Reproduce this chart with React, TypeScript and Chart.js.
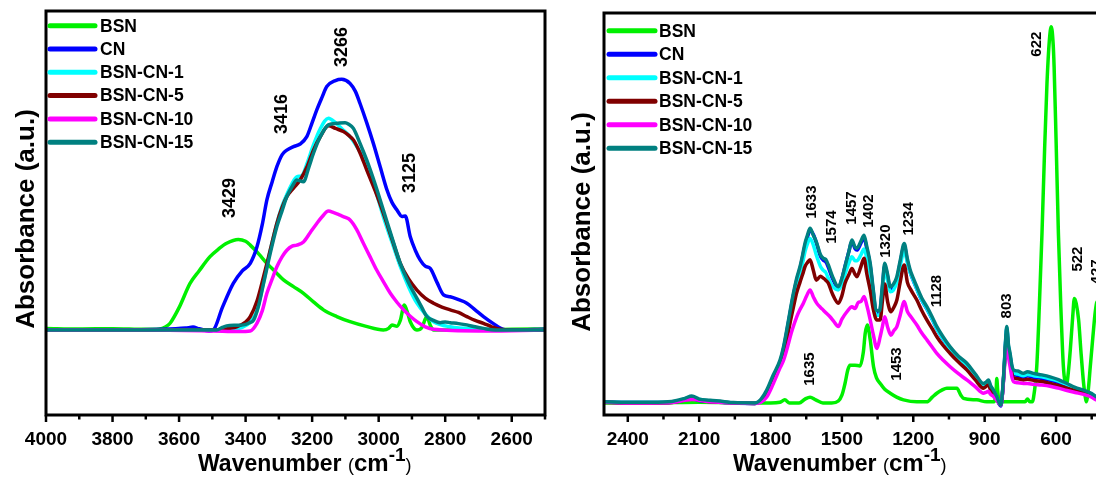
import React, { useEffect, useRef } from 'react';
import { Chart, registerables } from 'chart.js';

Chart.register(...registerables);

type P = [number, number];

// ---------------- DATA ----------------
const SERIES_NAMES = ['BSN', 'CN', 'BSN-CN-1', 'BSN-CN-5', 'BSN-CN-10', 'BSN-CN-15'];

// Left panel (4000-2500 cm-1): [wavenumber, absorbance]
const L_BSN: P[] = [[4000,0.5],[3900,0.3],[3800,0.4],[3700,0.2],[3660,0.3],[3640,1],[3627,2.1],[3600,7],[3567,14.6],[3540,18.5],[3507,23],[3480,25.5],[3457,27.2],[3422,28.4],[3400,27.8],[3386,26.6],[3360,23.8],[3336,20.9],[3310,18.2],[3286,15.7],[3256,13.6],[3226,11.5],[3196,8.8],[3166,6.3],[3126,4.2],[3086,2.6],[3040,1.2],[2986,0],[2970,0.5],[2960,1.6],[2945,1.2],[2935,3],[2923,7.8],[2912,5],[2905,2.6],[2885,0],[2870,0.8],[2855,4.2],[2845,1.5],[2835,0],[2700,0],[2600,0.2],[2500,0.3]];
const L_CN: P[] = [[4000,0],[3800,0],[3650,0.2],[3580,0.6],[3558,0.9],[3540,0.4],[3510,-0.3],[3497,0],[3470,7],[3437,14.6],[3410,18.5],[3386,20.9],[3366,26],[3350,33],[3336,40.8],[3320,46.5],[3306,51.2],[3290,55],[3276,56.4],[3256,57.5],[3236,58.3],[3216,60.6],[3200,65],[3186,69],[3170,73],[3156,76.3],[3130,78.2],[3111,78.6],[3086,77.3],[3070,74.8],[3056,71],[3036,65],[3016,58.5],[2995,51],[2975,43.9],[2960,40],[2945,37.6],[2930,35.6],[2920,35.7],[2905,29.2],[2890,25],[2875,21.9],[2860,20],[2845,19.3],[2825,15],[2805,11],[2785,10.4],[2760,9.5],[2735,8.4],[2710,6.3],[2685,4.2],[2655,2],[2625,0.2],[2600,0],[2500,0.2]];
const L_BSN_CN_1: P[] = [[4000,0],[3700,0],[3480,0],[3440,0.3],[3410,0.8],[3386,2.5],[3366,6],[3346,15],[3326,25],[3306,33.5],[3290,39],[3276,42.5],[3260,46],[3246,48],[3230,48.5],[3216,52],[3196,58],[3176,63],[3151,66.4],[3130,65],[3110,63],[3086,60.6],[3060,56.5],[3036,52.3],[3010,44],[2986,35.5],[2960,27.5],[2935,19.9],[2910,13.5],[2885,8.4],[2860,5],[2835,2.6],[2785,1],[2700,0.3],[2600,0],[2500,0]];
const L_BSN_CN_5: P[] = [[4000,0],[3700,0],[3477,0],[3450,0.5],[3427,1],[3400,2.5],[3386,4.2],[3366,9],[3346,16.7],[3326,25],[3306,33.4],[3290,38.5],[3276,41.8],[3256,44.5],[3236,47],[3216,51],[3196,56.4],[3176,60.5],[3151,64],[3130,63.2],[3106,62.2],[3090,61],[3076,59.6],[3056,55.5],[3036,50.2],[3010,43.5],[2986,36.6],[2960,28.5],[2935,20.9],[2910,16],[2885,12.5],[2860,10],[2835,8.4],[2810,7.2],[2785,6.3],[2760,5.5],[2735,4.2],[2710,3],[2685,2.1],[2660,1],[2635,0.2],[2600,0],[2500,0]];
const L_BSN_CN_10: P[] = [[4000,0],[3700,0],[3500,-0.3],[3420,-0.5],[3386,-0.3],[3366,2.1],[3350,6],[3336,11.5],[3320,16],[3306,19.8],[3290,23],[3276,25],[3260,26.3],[3246,26.6],[3226,27.6],[3206,30.5],[3186,33.4],[3170,35.5],[3151,37.3],[3135,36.8],[3116,36],[3100,35.3],[3086,34.5],[3066,31.5],[3046,27.2],[3026,23],[3006,18.8],[2985,15],[2965,11.5],[2945,8.7],[2925,6.3],[2905,4.3],[2885,2.6],[2860,1],[2835,0.2],[2700,-0.3],[2600,-0.2],[2500,0]];
const L_BSN_CN_15: P[] = [[4000,0],[3700,0],[3487,0],[3470,0.8],[3457,1.3],[3430,1.5],[3406,1.6],[3390,2.2],[3376,3.1],[3360,8],[3346,14.6],[3326,24],[3306,32.4],[3290,37.5],[3276,41.8],[3260,45],[3246,47],[3226,46.5],[3210,51],[3196,55.4],[3176,60.5],[3151,64.3],[3125,64.8],[3101,65],[3090,64.5],[3076,63.2],[3056,58.5],[3036,53.3],[3010,45.5],[2986,37.6],[2960,29],[2935,20.9],[2910,14.8],[2885,9.9],[2870,7],[2855,4.2],[2835,3],[2815,2.3],[2800,2.5],[2785,2.3],[2760,2],[2735,1.6],[2710,1],[2685,0.5],[2650,0],[2500,0]];

// Right panel (2500-400 cm-1)
const R_BSN: P[] = [[2500,0],[2300,0],[2100,0.2],[1900,0],[1800,0],[1760,0.2],[1740,0.8],[1720,0],[1680,0],[1655,1],[1634,1.5],[1610,0.8],[1580,0],[1543,0],[1515,0.5],[1500,2],[1487,5],[1475,8.5],[1466,9.7],[1445,9.7],[1424,9.5],[1410,13],[1402,17.9],[1393,20],[1381,16.2],[1367,9.3],[1355,6.5],[1339,5],[1320,3.5],[1297,2.5],[1270,1.5],[1241,0.8],[1185,0.3],[1143,0.3],[1120,1.5],[1101,2.5],[1080,3.3],[1059,3.8],[1017,3.8],[1000,2],[989,1.2],[933,0.8],[891,0.3],[860,0.3],[852,3],[849,6.3],[845,3],[838,0.3],[760,0.3],[730,0.3],[720,1],[710,0.3],[700,0.3],[695,1.2],[681,9.3],[670,25],[659,43.5],[648,65],[638,82],[628,93],[620,96.5],[612,92],[608,86.2],[600,68],[590,43.5],[580,25],[569,9.3],[562,5.5],[555,5],[548,8],[540,13.6],[530,22],[523,26.8],[515,25.5],[505,21.3],[495,13],[484,5],[478,2],[473,0.3],[465,3],[456,9.3],[445,17],[435,23.4],[427,26],[418,23],[410,15],[400,8]];
const R_CN: P[] = [[2500,0.2],[2400,0.1],[2300,0.1],[2215,0.2],[2160,0.8],[2131,1.2],[2100,0.6],[2054,0.4],[2000,0.2],[1956,0],[1865,-0.1],[1840,0.7],[1816,2.9],[1790,6.5],[1760,10.5],[1745,14],[1732,18.2],[1718,23],[1704,27.6],[1690,31.5],[1676,34.5],[1665,37.5],[1655,40.4],[1645,42.5],[1634,44.3],[1620,43.2],[1608,41.2],[1590,37.6],[1578,36.6],[1568,36.2],[1557,34.8],[1540,32],[1515,29.4],[1500,31.8],[1487,35],[1470,39],[1458,41.4],[1445,39.6],[1437,39.2],[1420,41],[1407,42.4],[1395,39.4],[1381,35.2],[1368,28.4],[1356,23.2],[1342,23],[1330,29.4],[1320,35.2],[1308,32.4],[1297,29.2],[1283,29.9],[1269,31.8],[1255,35.9],[1238,40.3],[1225,36.4],[1213,33.5],[1200,31.4],[1185,29.2],[1165,26.4],[1143,24.1],[1120,21.4],[1101,19],[1075,16.4],[1045,13.8],[1010,11.4],[975,9.6],[940,7],[905,4.5],[895,4.8],[884,5.3],[875,4],[863,2.8],[848,1],[840,-0.2],[832,-0.8],[825,2.5],[818,8.8],[812,15.5],[807,19],[800,14.3],[793,12],[785,8.8],[779,7.4],[760,7],[737,6.6],[720,7],[695,6.6],[660,6.3],[625,5.8],[590,5.2],[554,4.3],[520,3.4],[484,2.7],[450,1.9],[431,1.2],[400,0.5]];
const R_BSN_CN_1: P[] = [[2500,0.2],[2400,0.1],[2300,0.1],[2215,0.2],[2131,1.2],[2054,0.4],[1956,0],[1865,-0.1],[1840,0.7],[1816,2.8],[1790,6.5],[1760,10.3],[1745,13.8],[1732,17.8],[1718,22.5],[1704,27],[1690,30.5],[1676,33.5],[1665,36],[1655,38.8],[1645,40.8],[1634,42.2],[1620,40.5],[1608,38],[1590,35],[1578,34],[1568,33.5],[1557,32],[1540,30],[1515,29],[1500,30.5],[1487,33],[1470,36],[1458,37.5],[1445,36.5],[1437,36.5],[1420,38],[1407,39.5],[1395,37],[1381,33],[1368,27],[1356,22.5],[1342,22.5],[1330,28.5],[1320,34],[1308,31.5],[1297,28.5],[1283,29],[1269,31],[1255,35],[1238,39.2],[1225,36],[1213,33.5],[1200,31.5],[1185,29.2],[1165,26.5],[1143,24.2],[1120,21.5],[1101,19],[1075,16.5],[1045,13.8],[1010,11.5],[975,9.6],[940,7],[905,4.7],[895,5],[884,5.5],[875,4.2],[863,3.1],[848,1.3],[840,0.1],[832,-0.5],[825,2.7],[818,9],[812,15.7],[807,19.3],[800,14.5],[793,12],[785,9],[779,7.8],[760,7.4],[737,7],[720,7.3],[695,7],[660,6.7],[625,6.2],[590,5.6],[554,4.7],[520,3.8],[484,3],[450,2.2],[431,1.5],[400,0.7]];
const R_BSN_CN_5: P[] = [[2500,0.2],[2400,0],[2300,0],[2215,0.1],[2131,1],[2054,0.3],[1956,0],[1865,-0.1],[1840,0.5],[1816,2.5],[1790,5.8],[1760,9.5],[1745,12.5],[1732,16],[1718,20.5],[1704,24.5],[1690,28.3],[1676,31],[1665,33],[1655,35],[1645,36],[1634,36.7],[1620,34],[1608,31.5],[1590,32.5],[1578,32],[1568,31.5],[1557,30.7],[1540,28],[1515,25.6],[1500,27.5],[1487,30.7],[1470,33],[1458,34.5],[1445,33],[1437,32.4],[1420,35],[1407,37.1],[1395,33],[1381,28.9],[1368,24],[1353,21.3],[1339,21.3],[1330,26],[1320,30.5],[1308,26],[1294,23.4],[1282,24.5],[1269,26.4],[1255,31],[1238,35.4],[1225,31],[1210,29],[1185,26.4],[1165,23.8],[1143,21.3],[1120,19],[1101,17],[1075,14.8],[1045,12.7],[1010,10.5],[975,8.5],[940,6],[905,3.8],[895,4.2],[884,4.7],[875,3.2],[863,2.1],[848,0.8],[840,0],[832,-0.5],[825,2.5],[818,8.5],[812,14.5],[807,17.9],[800,13.5],[793,11],[785,7.5],[779,6.5],[760,6.2],[737,5.9],[720,6.1],[695,5.8],[660,5.5],[625,5],[590,4.5],[554,3.8],[520,3.2],[484,2.5],[450,1.8],[431,1],[400,0.5]];
const R_BSN_CN_10: P[] = [[2500,0.2],[2400,0],[2300,0],[2215,0.1],[2131,0.9],[2054,0.3],[1956,0],[1865,-0.1],[1840,0.2],[1816,1.5],[1788,5],[1760,9],[1745,11],[1732,13.6],[1710,18.5],[1690,22.1],[1676,24],[1662,25.6],[1648,27.5],[1634,29],[1620,27.2],[1606,25.6],[1590,24.5],[1578,23.8],[1565,23],[1550,22.1],[1535,21],[1515,19.6],[1500,21.5],[1479,23.4],[1458,24.7],[1445,24.2],[1431,25.8],[1420,26],[1407,27.3],[1395,25],[1381,21.3],[1368,17.5],[1353,14],[1339,17],[1330,19.5],[1320,22.1],[1308,19.5],[1294,17.4],[1282,18.5],[1269,19.6],[1255,22.5],[1238,26],[1225,23.5],[1210,22.1],[1185,20],[1165,18],[1143,16.2],[1120,14.3],[1101,12.7],[1075,11],[1045,9.3],[1010,7.5],[975,5.9],[940,4.2],[905,2.5],[895,2.7],[884,3],[875,2.2],[863,1.7],[848,0.6],[840,0],[832,-0.5],[825,2.5],[818,8],[812,13.5],[807,17],[800,12],[793,9.3],[785,6.5],[779,5.5],[760,5.2],[737,5],[720,5],[695,4.8],[660,4.6],[625,4.3],[590,3.8],[554,3.2],[520,2.7],[484,2.2],[450,1.5],[431,0.8],[400,0.4]];
const R_BSN_CN_15: P[] = [[2500,0.3],[2400,0.2],[2300,0.2],[2215,0.4],[2160,1.2],[2131,1.8],[2100,1],[2054,0.7],[2000,0.4],[1956,0.1],[1865,0],[1840,1],[1816,3.3],[1790,7],[1760,11],[1745,14.5],[1732,18.7],[1718,23.5],[1704,28.1],[1690,32],[1676,35],[1665,38],[1655,41],[1645,43],[1634,44.8],[1620,43],[1608,41.4],[1590,38],[1578,37.1],[1568,36.8],[1557,35.4],[1540,32.5],[1515,29.8],[1500,32],[1487,35],[1470,39],[1458,41.8],[1445,40],[1437,39.7],[1420,41.5],[1407,43],[1395,40],[1381,35.8],[1368,29],[1356,23.8],[1342,23.6],[1330,30],[1320,35.8],[1308,33],[1297,29.8],[1283,30.5],[1269,32.4],[1255,36.5],[1238,40.9],[1225,37],[1213,34.1],[1200,32],[1185,29.8],[1165,27],[1143,24.7],[1120,22],[1101,19.6],[1075,17],[1045,14.4],[1010,12],[975,10.2],[940,7.5],[905,5],[895,5.3],[884,5.9],[875,4.5],[863,3.3],[848,1.5],[840,0.2],[832,-0.5],[825,3],[818,9.3],[812,16],[807,19.6],[800,15],[793,12.7],[785,9.5],[779,8.5],[760,8.2],[737,7.6],[720,8],[695,7.6],[660,7.2],[625,6.7],[590,6],[554,5],[520,4],[484,3.3],[450,2.4],[431,1.6],[400,0.8]];

// Ticks
const L_MAJOR_TICKS = [4000, 3800, 3600, 3400, 3200, 3000, 2800, 2600];
const L_MINOR_TICKS = [3900, 3700, 3500, 3300, 3100, 2900, 2700, 2500];
const R_MAJOR_TICKS = [2400, 2100, 1800, 1500, 1200, 900, 600];
const R_MINOR_TICKS = [2250, 1950, 1650, 1350, 1050, 750, 450];

// Peak labels
const L_PEAK_LABELS = ['3429', '3416', '3266', '3125'];
const R_PEAK_LABELS = ['1633', '1574', '1457', '1402', '1320', '1234', '1128', '803', '622', '522', '427', '1635', '1453'];

// ---------------- LAYOUT / STYLE ----------------
const FONT = '"Liberation Sans", Arial, Helvetica, sans-serif';
const SERIES_COLORS = ['#00f000', '#0000ff', '#00ffff', '#800000', '#ff00ff', '#008080'];

// label anchors in data units (wavenumber, absorbance)
const L_PEAK_ANCHORS: P[] = [[3446, 41.4], [3290, 67.7], [3110, 88.7], [2905, 49.2]];
const R_PEAK_ANCHORS: P[] = [[1625, 51.5], [1541, 45.1], [1457, 50], [1386, 49.2], [1314, 41.5], [1217, 47.2], [1100, 28.7], [805, 24.9], [679, 92], [507, 36.9], [427, 33.6], [1634, 8.7], [1268, 10]];

interface PanelCfg {
  canvasX: number;
  width: number;
  pad: { left: number; right: number; top: number };
  axisH: number;
  xMin: number; xMax: number;
  yMin: number; yMax: number;
  series: P[][];
  major: number[]; minor: number[];
  peaks: string[]; anchors: P[]; peakFont: number;
  legend: { x0: number; x1: number; tx: number; rows: number[]; font: number };
  yTitle: { x: number; y: number };
  xTitleX: number;
}

const LEFT: PanelCfg = {
  canvasX: 0, width: 560,
  pad: { left: 46, right: 15, top: 11 },
  axisH: 62,
  xMin: 2500, xMax: 4000, yMin: -26.65, yMax: 100,
  series: [L_BSN, L_CN, L_BSN_CN_1, L_BSN_CN_5, L_BSN_CN_10, L_BSN_CN_15],
  major: L_MAJOR_TICKS, minor: L_MINOR_TICKS,
  peaks: L_PEAK_LABELS, anchors: L_PEAK_ANCHORS, peakFont: 18,
  legend: { x0: 50, x1: 95, tx: 100, rows: [25.7, 49, 72.3, 95.6, 118.9, 142.2], font: 17.5 },
  yTitle: { x: 27, y: 219 },
  xTitleX: 198,
};

const RIGHT: PanelCfg = {
  canvasX: 560, width: 560,
  pad: { left: 44, right: 16.4, top: 13 },
  axisH: 62,
  xMin: 400, xMax: 2500, yMin: -3.08, yMax: 100,
  series: [R_BSN, R_CN, R_BSN_CN_1, R_BSN_CN_5, R_BSN_CN_10, R_BSN_CN_15],
  major: R_MAJOR_TICKS, minor: R_MINOR_TICKS,
  peaks: R_PEAK_LABELS, anchors: R_PEAK_ANCHORS, peakFont: 15,
  legend: { x0: 49, x1: 95, tx: 99, rows: [30.7, 54.2, 77.7, 101.2, 124.7, 148.2], font: 17.5 },
  yTitle: { x: 23, y: 222 },
  xTitleX: 173,
};

function decorPlugin(cfg: PanelCfg) {
  return {
    id: 'decor',
    afterDatasetsDraw(chart: any) {
      const { ctx, chartArea: a, scales } = chart;
      const xs = scales.x;
      const ys = scales.y;
      ctx.save();
      // frame
      ctx.strokeStyle = '#000';
      ctx.lineWidth = 3;
      ctx.strokeRect(a.left, a.top, a.right - a.left, a.bottom - a.top);
      // tick marks
      ctx.lineWidth = 2.5;
      const drawTick = (v: number, len: number) => {
        const px = xs.getPixelForValue(v);
        ctx.beginPath();
        ctx.moveTo(px, a.bottom);
        ctx.lineTo(px, a.bottom + len);
        ctx.stroke();
      };
      cfg.major.forEach((v) => drawTick(v, 7));
      cfg.minor.forEach((v) => drawTick(v, 4.5));

      // peak labels
      ctx.fillStyle = '#000';
      ctx.font = `bold ${cfg.peakFont}px ${FONT}`;
      ctx.textAlign = 'center';
      ctx.textBaseline = 'middle';
      cfg.peaks.forEach((t, i) => {
        const [w, v] = cfg.anchors[i];
        const px = xs.getPixelForValue(w);
        const py = ys.getPixelForValue(v);
        ctx.save();
        ctx.translate(px, py);
        ctx.rotate(-Math.PI / 2);
        ctx.fillText(t, 0, 0);
        ctx.restore();
      });

      // legend
      const lg = cfg.legend;
      ctx.font = `bold ${lg.font}px ${FONT}`;
      ctx.textAlign = 'left';
      ctx.textBaseline = 'middle';
      ctx.lineCap = 'round';
      chart.data.datasets.forEach((ds: any, i: number) => {
        const y = lg.rows[i];
        ctx.strokeStyle = ds.borderColor;
        ctx.lineWidth = 5;
        ctx.beginPath();
        ctx.moveTo(lg.x0, y);
        ctx.lineTo(lg.x1, y);
        ctx.stroke();
        ctx.fillStyle = '#000';
        ctx.fillText(ds.label, lg.tx, y + 1);
      });

      // y title
      ctx.save();
      ctx.translate(cfg.yTitle.x, cfg.yTitle.y);
      ctx.rotate(-Math.PI / 2);
      ctx.font = `bold 26px ${FONT}`;
      ctx.textAlign = 'center';
      ctx.textBaseline = 'middle';
      ctx.fillText('Absorbance (a.u.)', 0, 0);
      ctx.restore();

      // x title with superscript
      const base = 471;
      let x = cfg.xTitleX;
      ctx.textAlign = 'left';
      ctx.textBaseline = 'alphabetic';
      const part = (txt: string, font: string, dy: number) => {
        ctx.font = font;
        ctx.fillText(txt, x, base + dy);
        x += ctx.measureText(txt).width;
      };
      part('Wavenumber ', `bold 23px ${FONT}`, 0);
      part('(', `18px ${FONT}`, 0);
      part('cm', `bold 24px ${FONT}`, 0);
      part('-1', `bold 19px ${FONT}`, -10);
      part(')', `18px ${FONT}`, 0);
      ctx.restore();
    },
  };
}

function buildChart(canvas: HTMLCanvasElement, cfg: PanelCfg) {
  const allTicks = [...cfg.major, ...cfg.minor].sort((p, q) => p - q);
  const n = cfg.series.length;
  return new Chart(canvas, {
    type: 'line',
    data: {
      datasets: cfg.series.map((s, i) => ({
        label: SERIES_NAMES[i],
        data: s.map(([x, y]) => ({ x, y })),
        borderColor: SERIES_COLORS[i],
        backgroundColor: SERIES_COLORS[i],
        borderWidth: 3.5,
        pointRadius: 0,
        tension: 0.3,
        cubicInterpolationMode: 'monotone' as const,
        fill: false,
        order: n - 1 - i, // later series drawn on top
      })),
    },
    options: {
      responsive: false,
      animation: false,
      events: [],
      layout: { padding: { left: cfg.pad.left, right: cfg.pad.right, top: cfg.pad.top, bottom: 0 } },
      plugins: { legend: { display: false }, tooltip: { enabled: false } },
      scales: {
        x: {
          type: 'linear',
          reverse: true,
          min: cfg.xMin,
          max: cfg.xMax,
          afterBuildTicks: (scale: any) => {
            scale.ticks = allTicks.map((v) => ({ value: v }));
          },
          afterFit: (scale: any) => {
            scale.height = cfg.axisH;
          },
          grid: { display: false },
          border: { display: false },
          ticks: {
            autoSkip: false,
            maxRotation: 0,
            padding: 5,
            color: '#000',
            font: { family: FONT, size: 19, weight: 'bold' },
            callback: (v: any) => (cfg.major.includes(Number(v)) ? String(v) : ''),
          },
        },
        y: {
          type: 'linear',
          display: false,
          min: cfg.yMin,
          max: cfg.yMax,
        },
      },
    } as any,
    plugins: [decorPlugin(cfg)],
  });
}

export default function App() {
  const leftRef = useRef<HTMLCanvasElement>(null);
  const rightRef = useRef<HTMLCanvasElement>(null);

  useEffect(() => {
    const c1 = buildChart(leftRef.current!, LEFT);
    const c2 = buildChart(rightRef.current!, RIGHT);
    return () => {
      c1.destroy();
      c2.destroy();
    };
  }, []);

  return (
    <div style={{ position: 'fixed', left: 0, top: 0, width: 1096, height: 477, overflow: 'hidden', background: '#fff' }}>
      <canvas ref={leftRef} width={LEFT.width} height={477} style={{ position: 'absolute', left: LEFT.canvasX, top: 0, width: LEFT.width, height: 477 }} />
      <canvas ref={rightRef} width={RIGHT.width} height={477} style={{ position: 'absolute', left: RIGHT.canvasX, top: 0, width: RIGHT.width, height: 477 }} />
    </div>
  );
}
